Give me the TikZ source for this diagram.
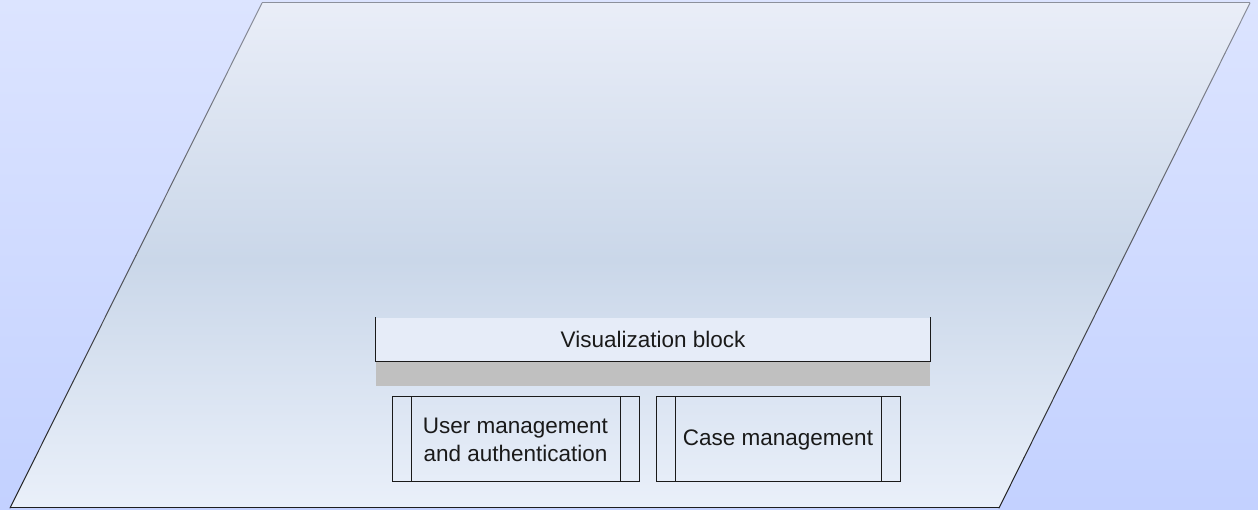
\documentclass[tikz,border=0pt]{standalone}
\usepackage{fontspec}
\setmainfont{Liberation Sans}
\usetikzlibrary{calc}
\definecolor{bgtop}{HTML}{DCE4FF}
\definecolor{bgbot}{HTML}{C3D1FF}
\definecolor{ptop}{HTML}{EAEEF8}
\definecolor{pmid}{HTML}{CAD7E9}
\definecolor{pbot}{HTML}{EAF0FA}
\definecolor{edgetop}{HTML}{8C909C}
\definecolor{edgebot}{HTML}{1E1E1E}
\definecolor{blockfill}{HTML}{E6ECF8}
\definecolor{barfill}{HTML}{C0C0C0}
\definecolor{ink}{HTML}{1A1A1A}
\begin{document}
\begin{tikzpicture}[x=1pt,y=1pt,line width=1pt,
  label/.style={font=\fontsize{22.5}{28}\selectfont, text=ink, align=center, inner sep=0pt},
  module/.style={label, draw=ink, line width=1pt, minimum height=85pt},
  rule/.style={draw=ink, line width=1pt}]
\useasboundingbox (0,0) rectangle (1258,510);
% page background
\shade[top color=bgtop, bottom color=bgbot] (0,0) rectangle (1258,510);

% outer parallelogram
\coordinate (BL) at (10,2);
\coordinate (BR) at (999,2);
\coordinate (TR) at (1250,507);
\coordinate (TL) at (262,507);
\begin{scope}
  \clip (BL) -- (BR) -- (TR) -- (TL) -- cycle;
  \shade[top color=ptop, bottom color=pmid] (0,249.5) rectangle (1258,510);
  \shade[top color=pmid, bottom color=pbot] (0,0) rectangle (1258,250);
\end{scope}
\draw[edgetop] (TL) -- (TR);
\draw[edgebot] (BL) -- (BR);
\foreach \i in {0,...,19}{
  \pgfmathsetmacro\a{\i/20}
  \pgfmathsetmacro\b{(\i+1)/20}
  \pgfmathsetmacro\c{100*(\i+0.5)/20}
  \draw[edgetop!\c!edgebot, line cap=round] ($(BL)!\a!(TL)$) -- ($(BL)!\b!(TL)$);
  \draw[edgetop!\c!edgebot, line cap=round] ($(BR)!\a!(TR)$) -- ($(BR)!\b!(TR)$);
}

% visualization block with its grey base
\node[label, minimum width=554pt, minimum height=43pt, fill=blockfill] (vis) at (653,170.5) {Visualization block};
\node[fill=barfill, minimum width=554pt, minimum height=24pt, inner sep=0pt, anchor=north] (bar) at (vis.south) {};
\draw[rule] (vis.north west) -- (vis.south west) -- (vis.south east) -- (vis.north east);

% predefined-process modules
\node[module, minimum width=247pt] (um) at (515.5,70.5) {User management\\and authentication};
\draw[rule] ([xshift=20pt]um.north west) -- ([xshift=20pt]um.south west);
\draw[rule] ([xshift=-19pt]um.north east) -- ([xshift=-19pt]um.south east);

\node[module, minimum width=244pt] (cm) at (778,70.5) {Case management};
\draw[rule] ([xshift=20pt]cm.north west) -- ([xshift=20pt]cm.south west);
\draw[rule] ([xshift=-19pt]cm.north east) -- ([xshift=-19pt]cm.south east);
\end{tikzpicture}
\end{document}
